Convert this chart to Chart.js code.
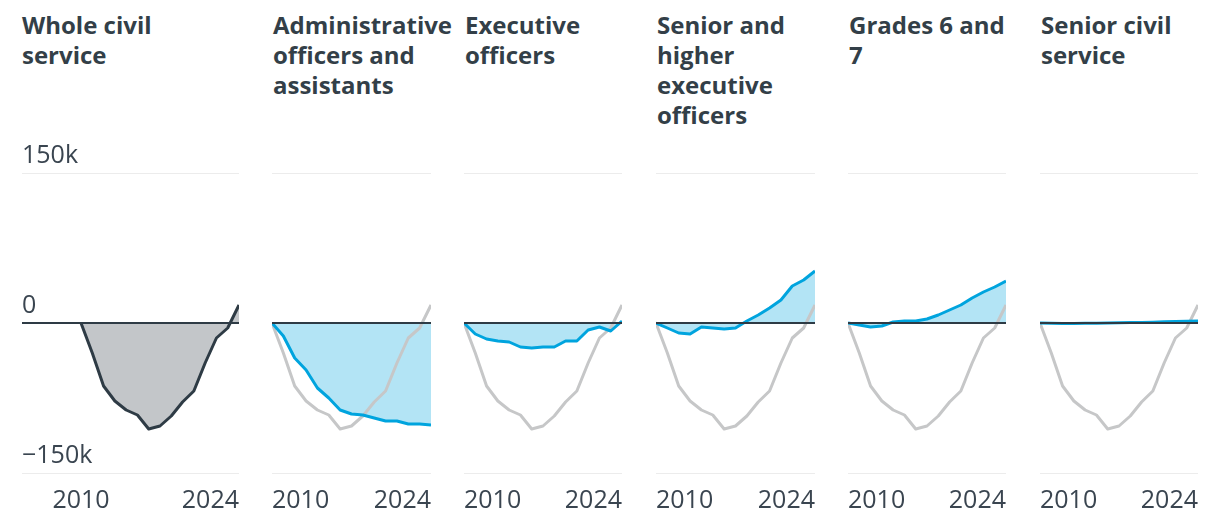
<!DOCTYPE html>
<html>
<head>
<meta charset="utf-8">
<script src="https://cdn.jsdelivr.net/npm/chart.js@4.4.1/dist/chart.umd.min.js"></script>
<style>
  body { margin: 0; background: #fff; width: 1220px; height: 526px; overflow: hidden; position: relative; font-family: "Open Sans", sans-serif; }
  .title { position: absolute; top: 10px; font-weight: 700; font-size: 24px; line-height: 30px; color: #333f48; white-space: nowrap; }
  canvas { position: absolute; top: 140px; }
</style>
</head>
<body>
<script>
// change in headcount since 2010, thousands
const years = [2010, 2011, 2012, 2013, 2014, 2015, 2016, 2017, 2018, 2019, 2020, 2021, 2022, 2023, 2024];
const wholeService  = [0, -30, -63, -78, -87, -92, -106, -103, -93, -79, -68, -40, -15, -5, 18];
const adminOfficers = [0, -13, -35, -47, -65, -75, -87, -91, -92, -95, -98, -98, -101, -101, -102];
const execOfficers  = [0, -11, -16, -18, -19, -24, -25, -24, -24, -18, -18, -7, -4, -8, 2];
const seniorHigher  = [0, -5, -10, -11, -4, -5, -6, -5, 2, 8, 15, 23, 37, 43, 52];
const grades6and7   = [0, -2, -4, -3, 1, 2, 2, 4, 8, 13, 18, 25, 31, 36, 42];
const seniorCivil   = [0, -0.3, -0.5, -0.5, -0.3, -0.2, 0, 0.2, 0.4, 0.6, 0.8, 1.2, 1.6, 1.8, 2];

const yTicks = [-150, 0, 150];
const xTicks = [2010, 2024];

const titles = [
  ['Whole civil', 'service'],
  ['Administrative', 'officers and', 'assistants'],
  ['Executive', 'officers'],
  ['Senior and', 'higher', 'executive', 'officers'],
  ['Grades 6 and', '7'],
  ['Senior civil', 'service']
];

const DARK = '#2e3b45';
const GREY_LINE = '#c6c7c8';
const GREY_FILL = '#c3c6c9';
const BLUE = '#00a4de';
const BLUE_FILL = '#b3e4f5';
const TEXT = '#3a4550';

const panels = [
  { values: null,          left: 22,   width: 217, dataOffset: 59, yLabels: true },
  { values: adminOfficers, left: 272,  width: 159 },
  { values: execOfficers,  left: 464,  width: 158 },
  { values: seniorHigher,  left: 656,  width: 159 },
  { values: grades6and7,   left: 848,  width: 158 },
  { values: seniorCivil,   left: 1040, width: 158 }
];

const TICK_PAD = 13;
const PAD = 14;   // must be >= TICK_PAD, chart.js adds tick padding at the sides
const toPoints = arr => years.map((yr, i) => ({ x: yr, y: arr[i] }));

panels.forEach((p, i) => {
  const t = document.createElement('div');
  t.className = 'title';
  t.style.left = (p.left + (i ? 1 : 0)) + 'px';
  t.innerHTML = titles[i].join('<br>');
  document.body.appendChild(t);

  const c = document.createElement('canvas');
  c.width = p.width + 2 * PAD;
  c.height = 389;
  c.style.left = (p.left - PAD) + 'px';
  document.body.appendChild(c);

  const datasets = [];
  if (p.values) {
    datasets.push({ data: toPoints(p.values), borderColor: BLUE, backgroundColor: BLUE_FILL, fill: 'origin' });
    datasets.push({ data: toPoints(wholeService), borderColor: GREY_LINE, fill: false });
  } else {
    datasets.push({ data: toPoints(wholeService), borderColor: DARK, backgroundColor: GREY_FILL, fill: 'origin' });
  }

  // first panel: gridlines reach left under the y labels, data starts further in
  const off = p.dataOffset || 0;
  const step = (p.width - off) / (years.length - 1);
  const xMin = years[0] - off / step;

  new Chart(c, {
    type: 'line',
    data: { datasets },
    options: {
      responsive: false,
      animation: false,
      layout: { padding: { top: 33, bottom: 0, left: PAD, right: PAD } },
      elements: {
        line: { borderWidth: 3, tension: 0, borderJoinStyle: 'round' },
        point: { radius: 0 }
      },
      plugins: {
        legend: { display: false },
        tooltip: { enabled: false },
        filler: { drawTime: 'beforeDatasetsDraw' }
      },
      scales: {
        x: {
          type: 'linear',
          min: xMin,
          max: years[years.length - 1],
          afterBuildTicks: s => { s.ticks = (off ? [xMin] : []).concat(xTicks).map(v => ({ value: v })); },
          grid: { display: false, drawTicks: false },
          border: { display: false },
          ticks: {
            align: 'inner',
            autoSkip: false,
            maxRotation: 0,
            padding: TICK_PAD,
            color: TEXT,
            font: { family: 'Open Sans', size: 25 },
            callback: v => xTicks.includes(v) ? String(v) : ''
          }
        },
        y: {
          min: -150,
          max: 150,
          afterBuildTicks: s => { s.ticks = yTicks.map(v => ({ value: v })); },
          grid: {
            z: 1,
            drawTicks: false,
            color: ctx => ctx.tick && ctx.tick.value === 0 ? DARK : '#ececec',
            lineWidth: ctx => ctx.tick && ctx.tick.value === 0 ? 2 : 1
          },
          border: { display: false },
          ticks: {
            display: !!p.yLabels,
            mirror: true,
            crossAlign: 'near',
            padding: 0,
            labelOffset: -17,
            color: TEXT,
            font: { family: 'Open Sans', size: 25 },
            callback: v => v === 0 ? '0' : (v < 0 ? '\u2212' : '') + Math.abs(v) + 'k'
          }
        }
      }
    }
  });
});
</script>
</body>
</html>
